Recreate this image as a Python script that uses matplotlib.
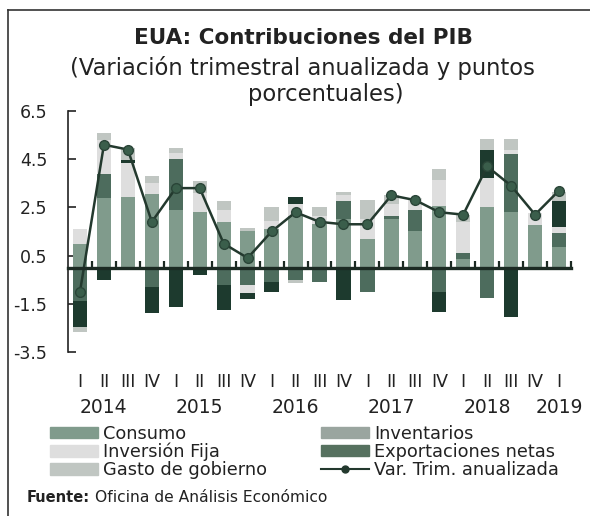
import matplotlib
matplotlib.use("Agg")
import matplotlib.pyplot as plt
import numpy as np
from matplotlib.lines import Line2D
from matplotlib.patches import Patch
import matplotlib.transforms as mtransforms

plt.rcParams['font.family'] = ['DejaVu Sans']

quarters = ["I", "II", "III", "IV"] * 5 + ["I"]
years = ["2014", "2015", "2016", "2017", "2018", "2019"]
year_pos = [1, 5, 9, 13, 17, 20]

consumo =       [1.00, 2.90, 2.95, 3.05, 2.40, 2.30, 1.90, 1.50, 1.60, 2.15, 1.80, 2.00, 1.20, 2.00, 1.50, 2.55, 0.35, 2.50, 2.30, 1.75, 0.85]
inventarios =   [-1.40, 1.00, 0.00, -0.80, 2.10, -0.10, -0.70, -0.70, -0.60, -0.50, -0.60, 0.75, -1.00, 0.15, 0.90, -1.00, 0.25, -1.25, 2.40, 0.00, 0.60]
inversion =     [0.60, 1.40, 1.40, 0.45, 0.25, 0.80, 0.50, -0.35, 0.35, 0.50, 0.35, 0.25, 0.80, 0.50, 0.50, 1.10, 1.30, 1.20, 0.20, 0.50, 0.25]
exportaciones = [-1.05, -0.50, 0.10, -1.10, -1.65, -0.20, -1.05, -0.25, -0.40, 0.30, 0.00, -1.35, 0.00, 0.00, 0.00, -0.85, 0.00, 1.20, -2.05, 0.00, 1.05]
gasto =         [-0.20, 0.30, 0.50, 0.30, 0.20, 0.50, 0.35, 0.15, 0.55, -0.15, 0.35, 0.15, 0.80, 0.35, -0.10, 0.45, 0.30, 0.45, 0.45, -0.10, 0.40]
pib = [-1.0, 5.1, 4.9, 1.9, 3.3, 3.3, 1.0, 0.4, 1.5, 2.3, 1.9, 1.8, 1.8, 3.0, 2.8, 2.3, 2.2, 4.2, 3.4, 2.2, 3.2]

c_cons, c_inv, c_fija, c_exp, c_gob = "#809b8c", "#4d6c5d", "#dedede", "#1d3a2e", "#c0c6c2"
series = [
    ("Consumo", consumo, c_cons),
    ("Inventarios", inventarios, c_inv),
    ("Inversión Fija", inversion, c_fija),
    ("Exportaciones netas", exportaciones, c_exp),
    ("Gasto de gobierno", gasto, c_gob),
]

W, H = 590, 516
fig = plt.figure(figsize=(W / 100, H / 100), dpi=100)
ax = fig.add_axes([68 / W, 1 - 352 / H, (571 - 68) / W, (352 - 111) / H])

x = np.arange(len(pib))
pos_bottom = np.zeros(len(x))
neg_bottom = np.zeros(len(x))
for name, vals, col in series:
    v = np.array(vals)
    bottom = np.where(v >= 0, pos_bottom, neg_bottom)
    ax.bar(x, v, width=0.6, bottom=bottom, color=col, edgecolor='none', zorder=2)
    pos_bottom = pos_bottom + np.where(v > 0, v, 0)
    neg_bottom = neg_bottom + np.where(v < 0, v, 0)

ax.plot(x, pib, color="#23392e", lw=1.8, marker='o', markersize=7,
        markerfacecolor="#3a5e4b", markeredgecolor="#2a4538", zorder=4)

ax.set_xlim(-0.5, 20.5)
ax.set_ylim(-3.5, 6.5)
ax.set_yticks([6.5, 4.5, 2.5, 0.5, -1.5, -3.5])
ax.set_yticklabels(["6.5", "4.5", "2.5", "0.5", "-1.5", "-3.5"], fontsize=12.5)
ax.tick_params(axis='y', direction='in', length=6, width=1.2, pad=15, color='#222222',
               labelcolor='#222222')
for s in ['top', 'right']:
    ax.spines[s].set_visible(False)
ax.spines['left'].set_linewidth(1.2)
ax.spines['left'].set_color('#222222')
ax.spines['bottom'].set_position(('data', 0))
ax.spines['bottom'].set_linewidth(2.4)
ax.spines['bottom'].set_color('#1c2a23')
ax.spines['bottom'].set_zorder(5)
ax.set_xticks([])
ax.set_xticks(x + 0.5, minor=True)
ax.tick_params(axis='x', which='minor', direction='in', length=5, width=1.6, color='#1c2a23')

trans = mtransforms.blended_transform_factory(ax.transData, ax.transAxes)
for i, q in enumerate(quarters):
    ax.text(i, -0.125, q, transform=trans, ha='center', va='center', fontsize=12.5, color='#222222')
for p, yv in zip(year_pos, years):
    ax.text(p, -0.23, yv, transform=trans, ha='center', va='center', fontsize=13.5, color='#222222')

fig.text(0.515, 1 - 38 / H, "EUA: Contribuciones del PIB", ha='center', va='center',
         fontsize=15.5, fontweight='bold', color='#222222')
fig.text(0.512, 1 - 68 / H, "(Variación trimestral anualizada y puntos", ha='center', va='center',
         fontsize=16.3, color='#222222')
fig.text(0.552, 1 - 94 / H, "porcentuales)", ha='center', va='center',
         fontsize=16.3, color='#222222')

handles = [Patch(color=c_cons), Patch(color=c_fija), Patch(color=c_gob),
           Patch(color="#9aa59f"), Patch(color="#56715f"),
           Line2D([], [], color="#23392e", lw=1.5, marker='o', markersize=5,
                  markerfacecolor="#23392e")]
labels = ["Consumo", "Inversión Fija", "Gasto de gobierno", "Inventarios",
          "Exportaciones netas", "Var. Trim. anualizada"]
fig.legend(handles, labels, ncol=2, loc='upper left', bbox_to_anchor=(41 / W, 1 - 416 / H),
           frameon=False, fontsize=12.8, handlelength=2.7, handleheight=0.6,
           handletextpad=0.3, labelspacing=0.0, columnspacing=3.0, borderpad=0,
           labelcolor='#222222')

fig.text(27 / W, 1 - 497 / H, "Fuente:", ha='left', va='center', fontsize=10.5,
         fontweight='bold', color='#222222')
fig.text(95 / W, 1 - 497 / H, "Oficina de Análisis Económico", ha='left', va='center',
         fontsize=11.2, color='#222222')

fig.add_artist(Line2D([8 / W, 1.0], [1 - 10 / H, 1 - 10 / H], color='#333333', lw=1.2))
fig.add_artist(Line2D([8 / W, 8 / W], [1 - 10 / H, 0.0], color='#333333', lw=1.2))

fig.savefig("out.png", dpi=100)
